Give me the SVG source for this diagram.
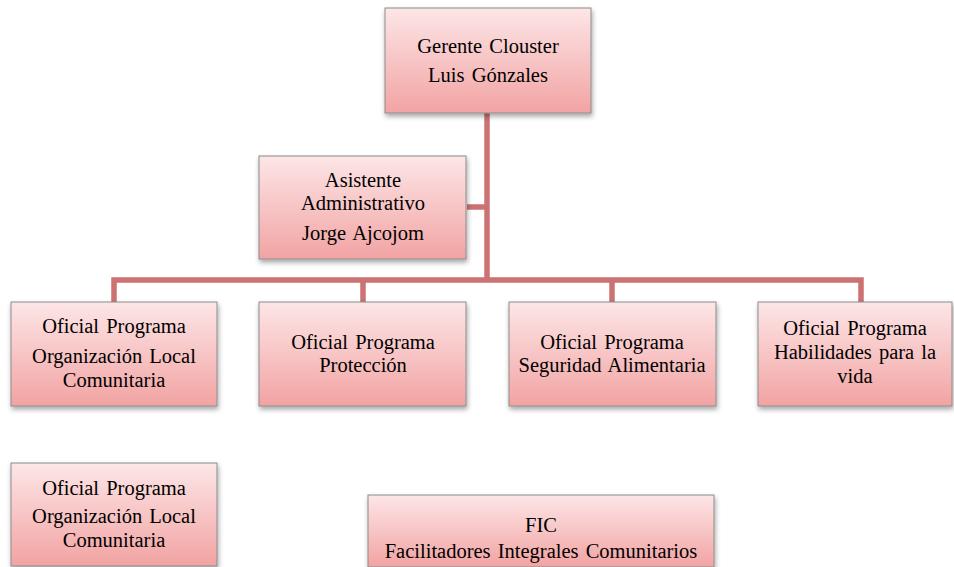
<svg xmlns="http://www.w3.org/2000/svg" width="954" height="567" viewBox="0 0 954 567">
<defs>
<linearGradient id="g" x1="0" y1="0" x2="0" y2="1">
<stop offset="0" stop-color="#fde6e7"/>
<stop offset="1" stop-color="#f2a3a3"/>
</linearGradient>
<filter id="sh" x="-10%" y="-10%" width="125%" height="135%">
<feDropShadow dx="1" dy="3" stdDeviation="2.5" flood-color="#000" flood-opacity="0.35"/>
</filter>
</defs>
<style>
.box{fill:url(#g);stroke:#8c8c8c;stroke-width:1;filter:url(#sh)}
.t{font-family:"Liberation Serif","Times New Roman",serif;font-size:20.5px;fill:#000;text-anchor:middle;word-spacing:2px}
.c{fill:none;stroke:#cc7272;stroke-width:5.5;stroke-linejoin:miter}
</style>
<rect width="954" height="567" fill="#fff"/>
<g id="connectors">
<path class="c" d="M487 113 V280"/>
<path class="c" d="M467 207 H487"/>
<path class="c" d="M114 302 V280 H861 V302"/>
<path class="c" d="M363 280 V302"/>
<path class="c" d="M612 280 V302"/>
</g>
<g id="gerente">
<rect class="box" x="385" y="8" width="206" height="105"/>
<text class="t" x="488" y="53">Gerente Clouster</text>
<text class="t" x="488" y="82">Luis Gónzales</text>
</g>
<g id="asistente">
<rect class="box" x="259" y="156" width="207" height="103"/>
<text class="t" x="363" y="187">Asistente</text>
<text class="t" x="363" y="210">Administrativo</text>
<text class="t" x="363" y="240">Jorge Ajcojom</text>
</g>
<g id="oficial-olc">
<rect class="box" x="11" y="302" width="206" height="104"/>
<text class="t" x="114" y="333">Oficial Programa</text>
<text class="t" x="114" y="363">Organización Local</text>
<text class="t" x="114" y="387">Comunitaria</text>
</g>
<g id="oficial-proteccion">
<rect class="box" x="259" y="302" width="207" height="104"/>
<text class="t" x="363" y="349">Oficial Programa</text>
<text class="t" x="363" y="372">Protección</text>
</g>
<g id="oficial-seguridad">
<rect class="box" x="509" y="302" width="207" height="104"/>
<text class="t" x="612" y="349">Oficial Programa</text>
<text class="t" x="612" y="372">Seguridad Alimentaria</text>
</g>
<g id="oficial-habilidades">
<rect class="box" x="758" y="302" width="194" height="104"/>
<text class="t" x="855" y="335">Oficial Programa</text>
<text class="t" x="855" y="359">Habilidades para la</text>
<text class="t" x="855" y="383">vida</text>
</g>
<g id="oficial-olc-2">
<rect class="box" x="11" y="463" width="206" height="103"/>
<text class="t" x="114" y="495">Oficial Programa</text>
<text class="t" x="114" y="523">Organización Local</text>
<text class="t" x="114" y="547">Comunitaria</text>
</g>
<g id="fic">
<rect class="box" x="368" y="495" width="346" height="72"/>
<text class="t" x="541" y="532">FIC</text>
<text class="t" x="541" y="558">Facilitadores Integrales Comunitarios</text>
</g>
</svg>
